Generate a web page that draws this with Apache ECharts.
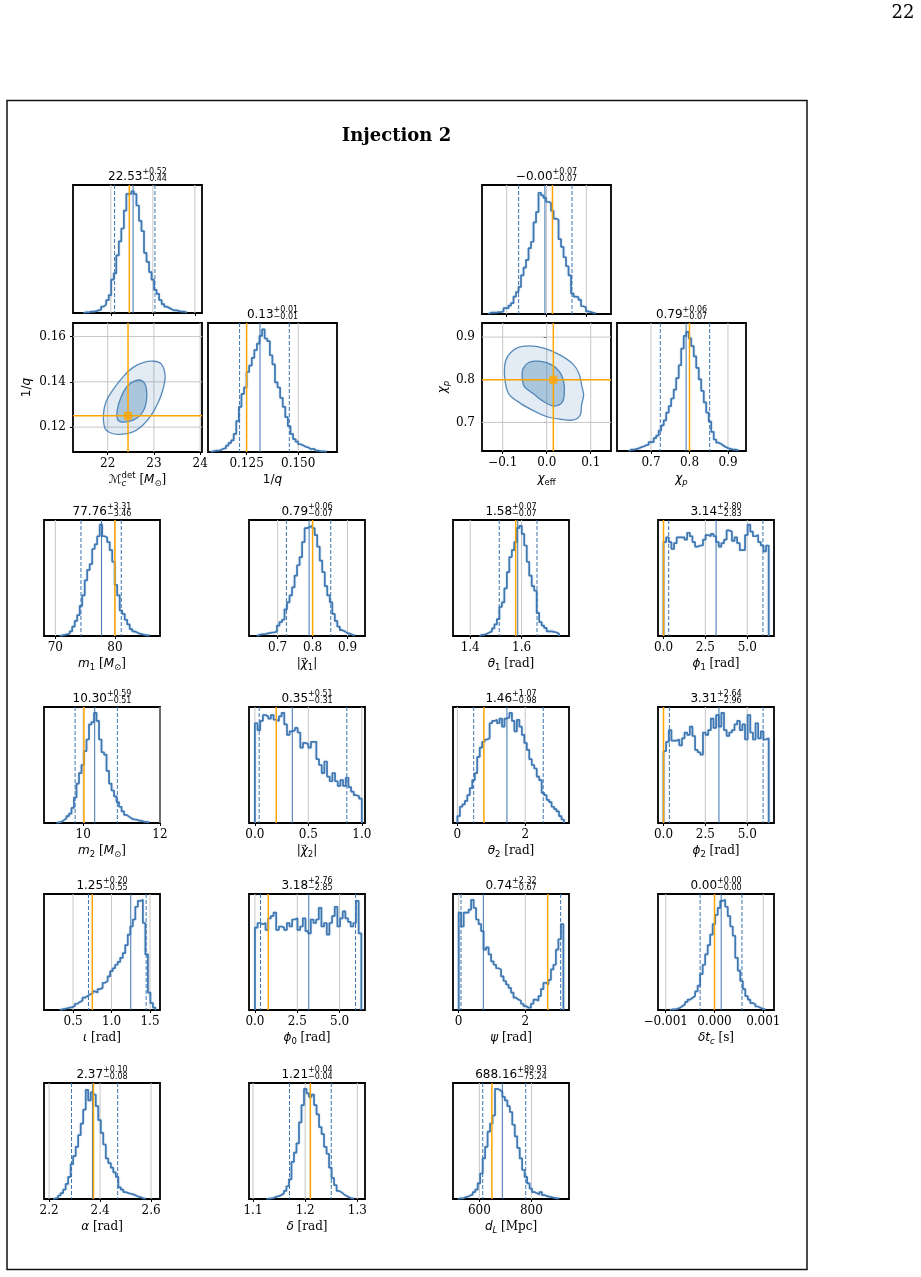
<!DOCTYPE html>
<html><head><meta charset="utf-8">
<script src="https://cdn.jsdelivr.net/npm/echarts@6.0.0/dist/echarts.min.js"></script>
<style>html,body{margin:0;padding:0;background:#fff}#c{width:921px;height:1277px}</style>
</head><body><div id="c"></div><script>
// ================= DATA =================
// histogram bin heights in percent of panel height; bins = [first edge, bin width]; stats = [median, lower, upper, injected]
const mcHist=[0.5,0.5,1,1,1.5,2,2.5,5,6.5,10,14,26,31,45,56,66,80,93,93,95,93,84,72,64,47,40,32,26,18,15,10,7,5,4,3,2,2,1.5,1,1,0.5];
const mcBins=[21.35,0.06]; const mcStats=[22.53,22.09,23.05,22.44]; const mcTitle=['22.53','+0.52','−0.44'];
const qHist=[0.5,1,1,1.5,2.5,3,5,7,9,14,24,35,45,50,62,67,73,79,84,90,95,88,86,75,68,54,50,42,35,27,20,14,10,8,6,5,4,3.5,2,2.5,1,1,0.5,0.5,0.3];
const qBins=[0.1075,0.00125]; const qStats=[0.1315,0.1216,0.1457,0.125]; const qTitle=['0.13','+0.01','−0.01'];
const ceHist=[1,1,1,1.5,1.5,2,4.5,4.5,6.5,8.5,13.5,17,21,30,36,42,51,56,71,79,94,92,90,87,86,80,74,73,58,52,44,37,30,16,13.5,13,11,6,5,2,1.5,1,0.5];
const ceBins=[-0.1456,0.00628]; const ceStats=[-0.004,-0.070,0.064,0.015]; const ceTitle=['−0.00','+0.07','−0.07'];
const cpHist=[1,1,1.5,2,3,3.5,4.5,5,7,7,10,12,16,20,24,30,35,41,48,57,67,80,90,93,88,82,74,65,56,47,38,30,23,15,9,6.5,5.5,4,3,2,1.5,1,1,0.5];
const cpBins=[0.642,0.0065]; const cpStats=[0.7913,0.7242,0.8524,0.80]; const cpTitle=['0.79','+0.06','−0.07'];
const m1Hist=[0.5,1,1.5,2,4,8,13,18,26,35,48,57,62,75,79,86,96,86,85,81,74,64,44,35,22,19,14,10,6,4,3,2,1.5,1,0.5,0.5];
const m1Bins=[70.73,0.42]; const m1Stats=[77.76,74.30,81.07,80.0]; const m1Title=['77.76','+3.31','−3.46'];
const chi1Hist=[1,1.5,1.5,2,2.5,3,3,4,9,12,14,23,29,35,42,52,61,68,81,93,94,95,93,87,77,65,55,43,35,29,19,13,8,5,4,2.5,2,1,0.5];
const chi1Bins=[0.6404,0.0072]; const chi1Stats=[0.79,0.725,0.852,0.80]; const chi1Title=['0.79','+0.06','−0.07'];
const th1Hist=[1,1,2,3,4,6.5,10,14.5,25,29,41,55,68,74,81,93,95,88,78,64,52,43,39,20,12,9,7,4,4,3.5,3,2];
const th1Bins=[1.4361,0.00968]; const th1Stats=[1.585,1.513,1.66,1.577]; const th1Title=['1.58','+0.07','−0.07'];
const ph1Hist=[81,85,81,75,80,85,85,85,83,89,86,81,77,78,78,83,87,86,88,86,81,77,80,83,91,90,82,85,80,74,74,87,96,90,86,87,81,78,73,78];
const ph1Bins=[0,0.15708]; const ph1Stats=[3.14,0.31,5.94,0.0]; const ph1Title=['3.14','+2.80','−2.83'];
const m2Hist=[0.5,1,2.5,4,6,8,13,22,34,43,50,62,72,85,87,95,88,72,61,59,45,34,28,23,18,14,10,7,5.5,4,3,3,2,2,1,1,0.5];
const m2Bins=[9.304,0.0652]; const m2Stats=[10.30,9.79,10.89,10.02]; const m2Title=['10.30','+0.59','−0.51'];
const chi2Hist=[86,80,88,93,92,90,93,89,88,92,95,85,76,79,80,82,78,65,69,68,65,70,70,55,50,43,53,40,36,43,36,32,37,32,39,31,27,24,23,21];
const chi2Bins=[0,0.025]; const chi2Stats=[0.35,0.04,0.86,0.20]; const chi2Title=['0.35','+0.51','−0.31'];
const th2Hist=[6,14,16,19,24,30,37,43,57,65,70,72,73,86,88,89,86,90,83,90,91,95,88,79,89,83,76,69,63,55,50,47,40,37,26,24,20,18,14,12,10,6,3];
const th2Bins=[0,0.07306]; const th2Stats=[1.46,0.48,2.53,0.78]; const th2Title=['1.46','+1.07','−0.98'];
const ph2Hist=[62,70,80,71,71,72,67,73,78,76,83,75,63,61,59,78,76,80,90,82,93,83,95,80,75,78,80,85,88,80,85,72,93,78,72,86,73,79,72,73];
const ph2Bins=[0,0.15708]; const ph2Stats=[3.31,0.35,5.95,0.0]; const ph2Title=['3.31','+2.64','−2.96'];
const iotaHist=[0.5,1,1.5,2,2.5,3.4,5.4,7,8,10.6,12,13.5,14,16,15,18,19,23.5,25,29,33.5,36,39,41.5,45,49,56,65,72,78,89,94,95,75,48,15,6,2];
const iotaBins=[0.3282,0.0327]; const iotaStats=[1.25,0.70,1.45,0.75]; const iotaTitle=['1.25','+0.20','−0.55'];
const ph0Hist=[71,75,74,75,69,79,81,84,69,72,71,69,75,72,78,79,69,72,79,68,66,78,75,78,88,72,75,65,75,81,89,72,79,85,79,76,72,75,94,66];
const ph0Bins=[0,0.15708]; const ph0Stats=[3.18,0.33,5.94,0.79]; const ph0Title=['3.18','+2.76','−2.85'];
const psiHist=[84,72,84,84,86.5,95,88,78,74,68,52,54,48,42,39,36,35,29,25,22,19,15,10.6,9,8,5.4,3.4,2,2,5.4,9,8,12,18,23.5,22,26,35,39,52,61,74];
const psiBins=[0,0.0748]; const psiStats=[0.74,0.07,3.06,2.67]; const psiTitle=['0.74','+2.32','−0.67'];
const dtcHist=[0.5,0.5,1,2,3.4,5,7,9,10.6,12,16,21,31,39,48,56,65,74,82,88,94,95,89,81,72,64,45,34,25,18,12,9,6,5,3,2,1,0.5];
const dtcBins=[-0.000911,0.0000514]; const dtcStats=[0.000137,-0.000295,0.000562,0.0]; const dtcTitle=['0.00','+0.00','−0.00'];
const alphaHist=[0.5,1,3,5,8,13,19,30,37,45,55,65,77,94,85,92,90,80,68,57,47,35,31,27,23,19,10,8,6,5,4.5,4,3,2,1.5,0.6,0.3];
const alphaBins=[2.2157,0.00984]; const alphaStats=[2.37,2.288,2.469,2.374]; const alphaTitle=['2.37','+0.10','−0.08'];
const deltaHist=[0.3,0.5,1,2,2.5,3.4,5,7,11,17,32,40,48,66,81,95,91,88,90,81,73,62,56,45,39,27,18,12,7,5.7,4,2.5,1.5,0.5,0.3];
const deltaBins=[1.1256,0.00481]; const deltaStats=[1.21,1.17,1.25,1.21]; const deltaTitle=['1.21','+0.04','−0.04'];
const dlHist=[0.5,0.5,1.5,2,3,4,6,8,13.5,22,35,45,58,65,72,95,94,92.5,88,85,80,75,64,54,44,35,25,19,13.5,9,6,5,4,6,3.4,2.5,2,1.5,1,0.5,0.5];
const dlBins=[517.7,9.49]; const dlStats=[688.16,612.9,778.1,648]; const dlTitle=['688.16','+89.93','−75.24'];

// 2D credible contours (outer, inner) in data coordinates, injected point
const mcqOuter=[[21.943,0.1194],[21.907,0.1253],[21.964,0.1312],[22.121,0.1367],[22.336,0.1423],[22.55,0.1464],[22.764,0.1485],[22.993,0.1491],[23.157,0.1479],[23.243,0.1426],[23.193,0.1364],[23.086,0.1305],[22.943,0.1253],[22.764,0.1209],[22.55,0.1179],[22.264,0.1168],[22.05,0.1175]];
const mcqInner=[[22.207,0.1238],[22.207,0.1275],[22.279,0.1327],[22.407,0.1376],[22.586,0.1404],[22.75,0.1404],[22.836,0.1371],[22.836,0.1312],[22.764,0.1268],[22.621,0.1238],[22.443,0.1224],[22.264,0.1224]];
const mcqTruth=[22.44,0.125];
const chiOuter=[[-0.0958,0.8304],[-0.0883,0.8553],[-0.0672,0.8747],[-0.037,0.8794],[-0.003,0.8732],[0.0309,0.8576],[0.0596,0.8366],[0.0732,0.8148],[0.08,0.7837],[0.0838,0.7642],[0.0792,0.7409],[0.0762,0.7175],[0.0611,0.7058],[0.0309,0.7074],[0.0045,0.7121],[-0.0257,0.7253],[-0.0596,0.7447],[-0.086,0.7665],[-0.0943,0.7953]];
const chiInner=[[-0.0558,0.807],[-0.0536,0.8265],[-0.0408,0.8405],[-0.0181,0.8436],[0.0083,0.8366],[0.0294,0.8187],[0.0385,0.7953],[0.04,0.7681],[0.0347,0.7463],[0.0158,0.7385],[-0.0068,0.7486],[-0.0294,0.7665],[-0.0506,0.7837]];
const chiTruth=[0.015,0.80];

// tick values and labels
const mcTicks=[22,23,24], mcLabels=['22','23','24'];
const qTicks=[0.125,0.150], qLabels=['0.125','0.150'];
const qyTicks=[0.12,0.14,0.16], qyLabels=['0.12','0.14','0.16'];
const ceTicks=[-0.1,0,0.1], ceLabels=['−0.1','0.0','0.1'];
const cpTicks=[0.7,0.8,0.9], cpLabels=['0.7','0.8','0.9'];
const m1Ticks=[70,80], m1Labels=['70','80'];
const chiTicks=[0.7,0.8,0.9], chiLabels=['0.7','0.8','0.9'];
const th1Ticks=[1.4,1.6], th1Labels=['1.4','1.6'];
const phTicks=[0,2.5,5], phLabels=['0.0','2.5','5.0'];
const m2Ticks=[10,12], m2Labels=['10','12'];
const chi2Ticks=[0,0.5,1], chi2Labels=['0.0','0.5','1.0'];
const th2Ticks=[0,2], th2Labels=['0','2'];
const iotaTicks=[0.5,1,1.5], iotaLabels=['0.5','1.0','1.5'];
const psiTicks=[0,2], psiLabels=['0','2'];
const dtcTicks=[-0.001,0,0.001], dtcLabels=['−0.001','0.000','0.001'];
const alphaTicks=[2.2,2.4,2.6], alphaLabels=['2.2','2.4','2.6'];
const deltaTicks=[1.1,1.2,1.3], deltaLabels=['1.1','1.2','1.3'];
const dlTicks=[600,800], dlLabels=['600','800'];

// ================= LAYOUT & STYLE =================
const SANS='DejaVu Sans', SERIF='DejaVu Serif';
const HIST='#3f78b3', BLUE='#3a74b0', ORANGE='#ffa500', GRAY='#c6c6c6';
const LSTYLE=[{stroke:GRAY,lineWidth:1},{stroke:BLUE,lineWidth:1},{stroke:BLUE,lineWidth:1,lineDash:[4,2]},{stroke:ORANGE,lineWidth:1.5}];
const COLX=[44,249,453,658], ROWY=[520,707,894,1083], CW=116, CH=116;

const T=(o)=>Object.assign({align:'left',fontWeight:'normal',color:'#000'},o);
const richName={
  i:T({fontFamily:SANS,fontStyle:'italic',fontSize:12,lineHeight:16}),
  u:T({fontFamily:SANS,fontSize:12,lineHeight:16}),
  r:T({fontFamily:SERIF,fontSize:12,lineHeight:16}),
  sb:T({fontFamily:SANS,fontStyle:'italic',fontSize:8.5,height:9,verticalAlign:'bottom'}),
  sbu:T({fontFamily:SANS,fontSize:8.5,height:9,verticalAlign:'bottom'}),
  sbz:T({fontFamily:SANS,fontStyle:'italic',fontSize:8.5,height:9,verticalAlign:'bottom',width:0.01}),
  spu:T({fontFamily:SANS,fontSize:8.5,height:8,verticalAlign:'top'}),
  arw:T({fontFamily:SANS,fontSize:7,height:7,verticalAlign:'top',width:0.01})
};
const richTitle={
  m:T({fontFamily:SANS,fontSize:12,lineHeight:16}),
  p:T({fontFamily:SANS,fontSize:8,height:7.5,verticalAlign:'top',width:0.01}),
  n:T({fontFamily:SANS,fontSize:8,height:12,verticalAlign:'bottom'})
};

const grids=[], xAxes=[], yAxes=[], series=[], titles=[];

function fmt(ticks,labels){return v=>{let b=0;for(let i=1;i<ticks.length;i++)if(Math.abs(ticks[i]-v)<Math.abs(ticks[b]-v))b=i;return labels[b];};}
function lineRender(params,api){
  const v=api.value(0), k=api.value(1), o=api.value(2); const cs=params.coordSys; const p=api.coord([v,v]);
  const shape=o===0?{x1:p[0],y1:cs.y,x2:p[0],y2:cs.y+cs.height}:{x1:cs.x,y1:p[1],x2:cs.x+cs.width,y2:p[1]};
  return {type:'line',shape:shape,style:Object.assign({fill:null},LSTYLE[k])};
}
function xAxisOf(g,xr,ticks,labels,showLabels,name){
  return {gridIndex:g,type:'value',min:xr[0],max:xr[1],axisLine:{show:false},splitLine:{show:false},
    axisTick:{show:true,length:3,customValues:ticks,lineStyle:{color:'#000',width:1}},
    axisLabel:{show:showLabels,customValues:ticks,formatter:fmt(ticks,labels),margin:6,fontFamily:SERIF,fontSize:12,color:'#000'},
    name:name||'',nameLocation:'middle',nameGap:20,nameTextStyle:{rich:richName,lineHeight:16,fontFamily:SERIF,fontSize:12,fontWeight:'normal',color:'#000'}};
}
function addGrid(r){
  grids.push({left:r[0],top:r[1],width:r[2],height:r[3],show:true,borderColor:'#000',borderWidth:1.8,backgroundColor:'transparent',containLabel:false,outerBoundsMode:'none'});
  return grids.length-1;
}
function addHist(r,xr,ticks,labels,showLabels,name,h,bins,stats,title){
  const g=addGrid(r);
  xAxes.push(xAxisOf(g,xr,ticks,labels,showLabels,name));
  yAxes.push({gridIndex:g,type:'value',min:0,max:100,show:false});
  series.push({type:'custom',xAxisIndex:g,yAxisIndex:g,data:ticks.map(t=>[t,0,0]),renderItem:lineRender,z:1,silent:true});
  const lo=bins[0],w=bins[1];const pts=[[lo,0]];
  h.forEach((v,i)=>pts.push([lo+i*w,v]));
  pts.push([lo+h.length*w,h[h.length-1]]);pts.push([lo+h.length*w,0]);
  series.push({type:'line',xAxisIndex:g,yAxisIndex:g,data:pts,step:'end',symbol:'none',showSymbol:false,
    lineStyle:{color:HIST,width:1.7,shadowColor:'rgba(70,130,180,0.5)',shadowBlur:1.5},z:3,silent:true});
  series.push({type:'custom',xAxisIndex:g,yAxisIndex:g,data:[[stats[0],1,0],[stats[1],2,0],[stats[2],2,0],[stats[3],3,0]],renderItem:lineRender,z:4,silent:true});
  titles.push({text:'{m|'+title[0]+'}{p|'+title[1]+'}{n|'+title[2]+'}',left:r[0]+r[2]/2,top:r[1]-16.5,textAlign:'center',textVerticalAlign:'top',padding:0,
    textStyle:{rich:richTitle,lineHeight:16,fontFamily:SANS,fontSize:12,fontWeight:'normal',color:'#000'}});
}
function add2D(r,xr,yr,xt,xl,yt,yl,xname,yname,yGap,outer,inner,truth){
  const g=addGrid(r);
  xAxes.push(xAxisOf(g,xr,xt,xl,true,xname));
  yAxes.push({gridIndex:g,type:'value',min:yr[0],max:yr[1],axisLine:{show:false},splitLine:{show:false},
    axisTick:{show:true,length:3,customValues:yt,lineStyle:{color:'#000',width:1}},
    axisLabel:{customValues:yt,formatter:fmt(yt,yl),margin:7,fontFamily:SERIF,fontSize:12,color:'#000'},
    name:yname,nameLocation:'middle',nameGap:yGap,nameTextStyle:{rich:richName,lineHeight:16,fontFamily:SERIF,fontSize:12,fontWeight:'normal',color:'#000'}});
  series.push({type:'custom',xAxisIndex:g,yAxisIndex:g,data:xt.map(t=>[t,0,0]).concat(yt.map(t=>[t,0,1])),renderItem:lineRender,z:1,silent:true});
  const polys=[outer,inner];
  const fills=['rgba(70,130,180,0.15)','rgba(70,130,180,0.36)'];
  series.push({type:'custom',xAxisIndex:g,yAxisIndex:g,data:polys.map(p=>p[0]),z:2,silent:true,
    renderItem:(params,api)=>({type:'polygon',shape:{points:polys[params.dataIndex].map(p=>api.coord(p)),smooth:0.35},
      style:{fill:fills[params.dataIndex],stroke:'rgba(60,120,175,0.85)',lineWidth:1.3}})});
  series.push({type:'custom',xAxisIndex:g,yAxisIndex:g,data:[[truth[0],3,0],[truth[1],3,1]],renderItem:lineRender,z:4,silent:true});
  series.push({type:'scatter',xAxisIndex:g,yAxisIndex:g,data:[truth],symbol:'rect',symbolSize:8,itemStyle:{color:ORANGE},z:6,silent:true});
}

// ---- corner plot 1: chirp mass & 1/q ----
addHist([73,185,129,128],[21.1,24.17],mcTicks,mcLabels,false,'',mcHist,mcBins,mcStats,mcTitle);
add2D([73,323,129,129],[21.25,24.04],[0.109,0.166],mcTicks,mcLabels,qyTicks,qyLabels,
  '{i|ℳ}{sbz|c}{spu|det}{r| [}{i|M}{sbu|⊙}{r|]}','{u|1/}{i|q}',38,mcqOuter,mcqInner,mcqTruth);
addHist([208,323,129,129],[0.1063,0.1688],qTicks,qLabels,true,'{u|1/}{i|q}',qHist,qBins,qStats,qTitle);
// ---- corner plot 2: chi_eff & chi_p ----
addHist([482,185,129,129],[-0.162,0.162],ceTicks,ceLabels,false,'',ceHist,ceBins,ceStats,ceTitle);
add2D([482,323,129,128],[-0.147,0.146],[0.633,0.933],ceTicks,ceLabels,cpTicks,cpLabels,
  '{i|χ}{sbu|eff}','{i|χ}{sb|p}',31,chiOuter,chiInner,chiTruth);
addHist([617,323,129,128],[0.6117,0.9468],cpTicks,cpLabels,true,'{i|χ}{sb|p}',cpHist,cpBins,cpStats,cpTitle);

// ---- grid of 1D marginals ----
const R=(c,r)=>[COLX[c],ROWY[r],CW,CH];
addHist(R(0,0),[68.09,87.58],m1Ticks,m1Labels,true,'{i|m}{sbu|1}{r| [}{i|M}{sbu|⊙}{r|]}',m1Hist,m1Bins,m1Stats,m1Title);
addHist(R(1,0),[0.618,0.95],chiTicks,chiLabels,true,'{u||}{arw|→}{i|χ}{sbu|1}{u||}',chi1Hist,chi1Bins,chi1Stats,chi1Title);
addHist(R(2,0),[1.333,1.7845],th1Ticks,th1Labels,true,'{i|θ}{sbu|1}{r| [rad]}',th1Hist,th1Bins,th1Stats,th1Title);
addHist(R(3,0),[-0.33,6.6],phTicks,phLabels,true,'{i|ϕ}{sbu|1}{r| [rad]}',ph1Hist,ph1Bins,ph1Stats,ph1Title);
addHist(R(0,1),[8.98,12.0],m2Ticks,m2Labels,true,'{i|m}{sbu|2}{r| [}{i|M}{sbu|⊙}{r|]}',m2Hist,m2Bins,m2Stats,m2Title);
addHist(R(1,1),[-0.055,1.03],chi2Ticks,chi2Labels,true,'{u||}{arw|→}{i|χ}{sbu|2}{u||}',chi2Hist,chi2Bins,chi2Stats,chi2Title);
addHist(R(2,1),[-0.13,3.29],th2Ticks,th2Labels,true,'{i|θ}{sbu|2}{r| [rad]}',th2Hist,th2Bins,th2Stats,th2Title);
addHist(R(3,1),[-0.33,6.6],phTicks,phLabels,true,'{i|ϕ}{sbu|2}{r| [rad]}',ph2Hist,ph2Bins,ph2Stats,ph2Title);
addHist(R(0,2),[0.122,1.63],iotaTicks,iotaLabels,true,'{i|ι}{r| [rad]}',iotaHist,iotaBins,iotaStats,iotaTitle);
addHist(R(1,2),[-0.35,6.5],phTicks,phLabels,true,'{i|ϕ}{sbu|0}{r| [rad]}',ph0Hist,ph0Bins,ph0Stats,ph0Title);
addHist(R(2,2),[-0.17,3.31],psiTicks,psiLabels,true,'{i|ψ}{r| [rad]}',psiHist,psiBins,psiStats,psiTitle);
addHist(R(3,2),[-0.001158,0.001219],dtcTicks,dtcLabels,true,'{i|δt}{sb|c}{r| [s]}',dtcHist,dtcBins,dtcStats,dtcTitle);
addHist(R(0,3),[2.18,2.635],alphaTicks,alphaLabels,true,'{i|α}{r| [rad]}',alphaHist,alphaBins,alphaStats,alphaTitle);
addHist(R(1,3),[1.0923,1.3147],deltaTicks,deltaLabels,true,'{i|δ}{r| [rad]}',deltaHist,deltaBins,deltaStats,deltaTitle);
addHist(R(2,3),[498.7,944.3],dlTicks,dlLabels,true,'{i|d}{sb|L}{r| [Mpc]}',dlHist,dlBins,dlStats,dlTitle);

titles.push({text:'Injection 2',left:396.5,top:127.5,textAlign:'center',textVerticalAlign:'top',padding:0,
  textStyle:{fontFamily:SERIF,fontWeight:'bold',fontSize:18,color:'#000'}});
titles.push({text:'22',left:903,top:4.5,textAlign:'center',textVerticalAlign:'top',padding:0,
  textStyle:{fontFamily:SERIF,fontWeight:'normal',fontSize:18,color:'#000'}});

const chart=echarts.init(document.getElementById('c'),null,{renderer:'canvas',width:921,height:1277});
chart.setOption({
  backgroundColor:'#fff',animation:false,
  title:titles,grid:grids,xAxis:xAxes,yAxis:yAxes,series:series,
  graphic:[{type:'rect',shape:{x:7,y:100.5,width:800,height:1169},style:{fill:'none',stroke:'#111',lineWidth:1.5},silent:true}]
});
</script></body></html>
